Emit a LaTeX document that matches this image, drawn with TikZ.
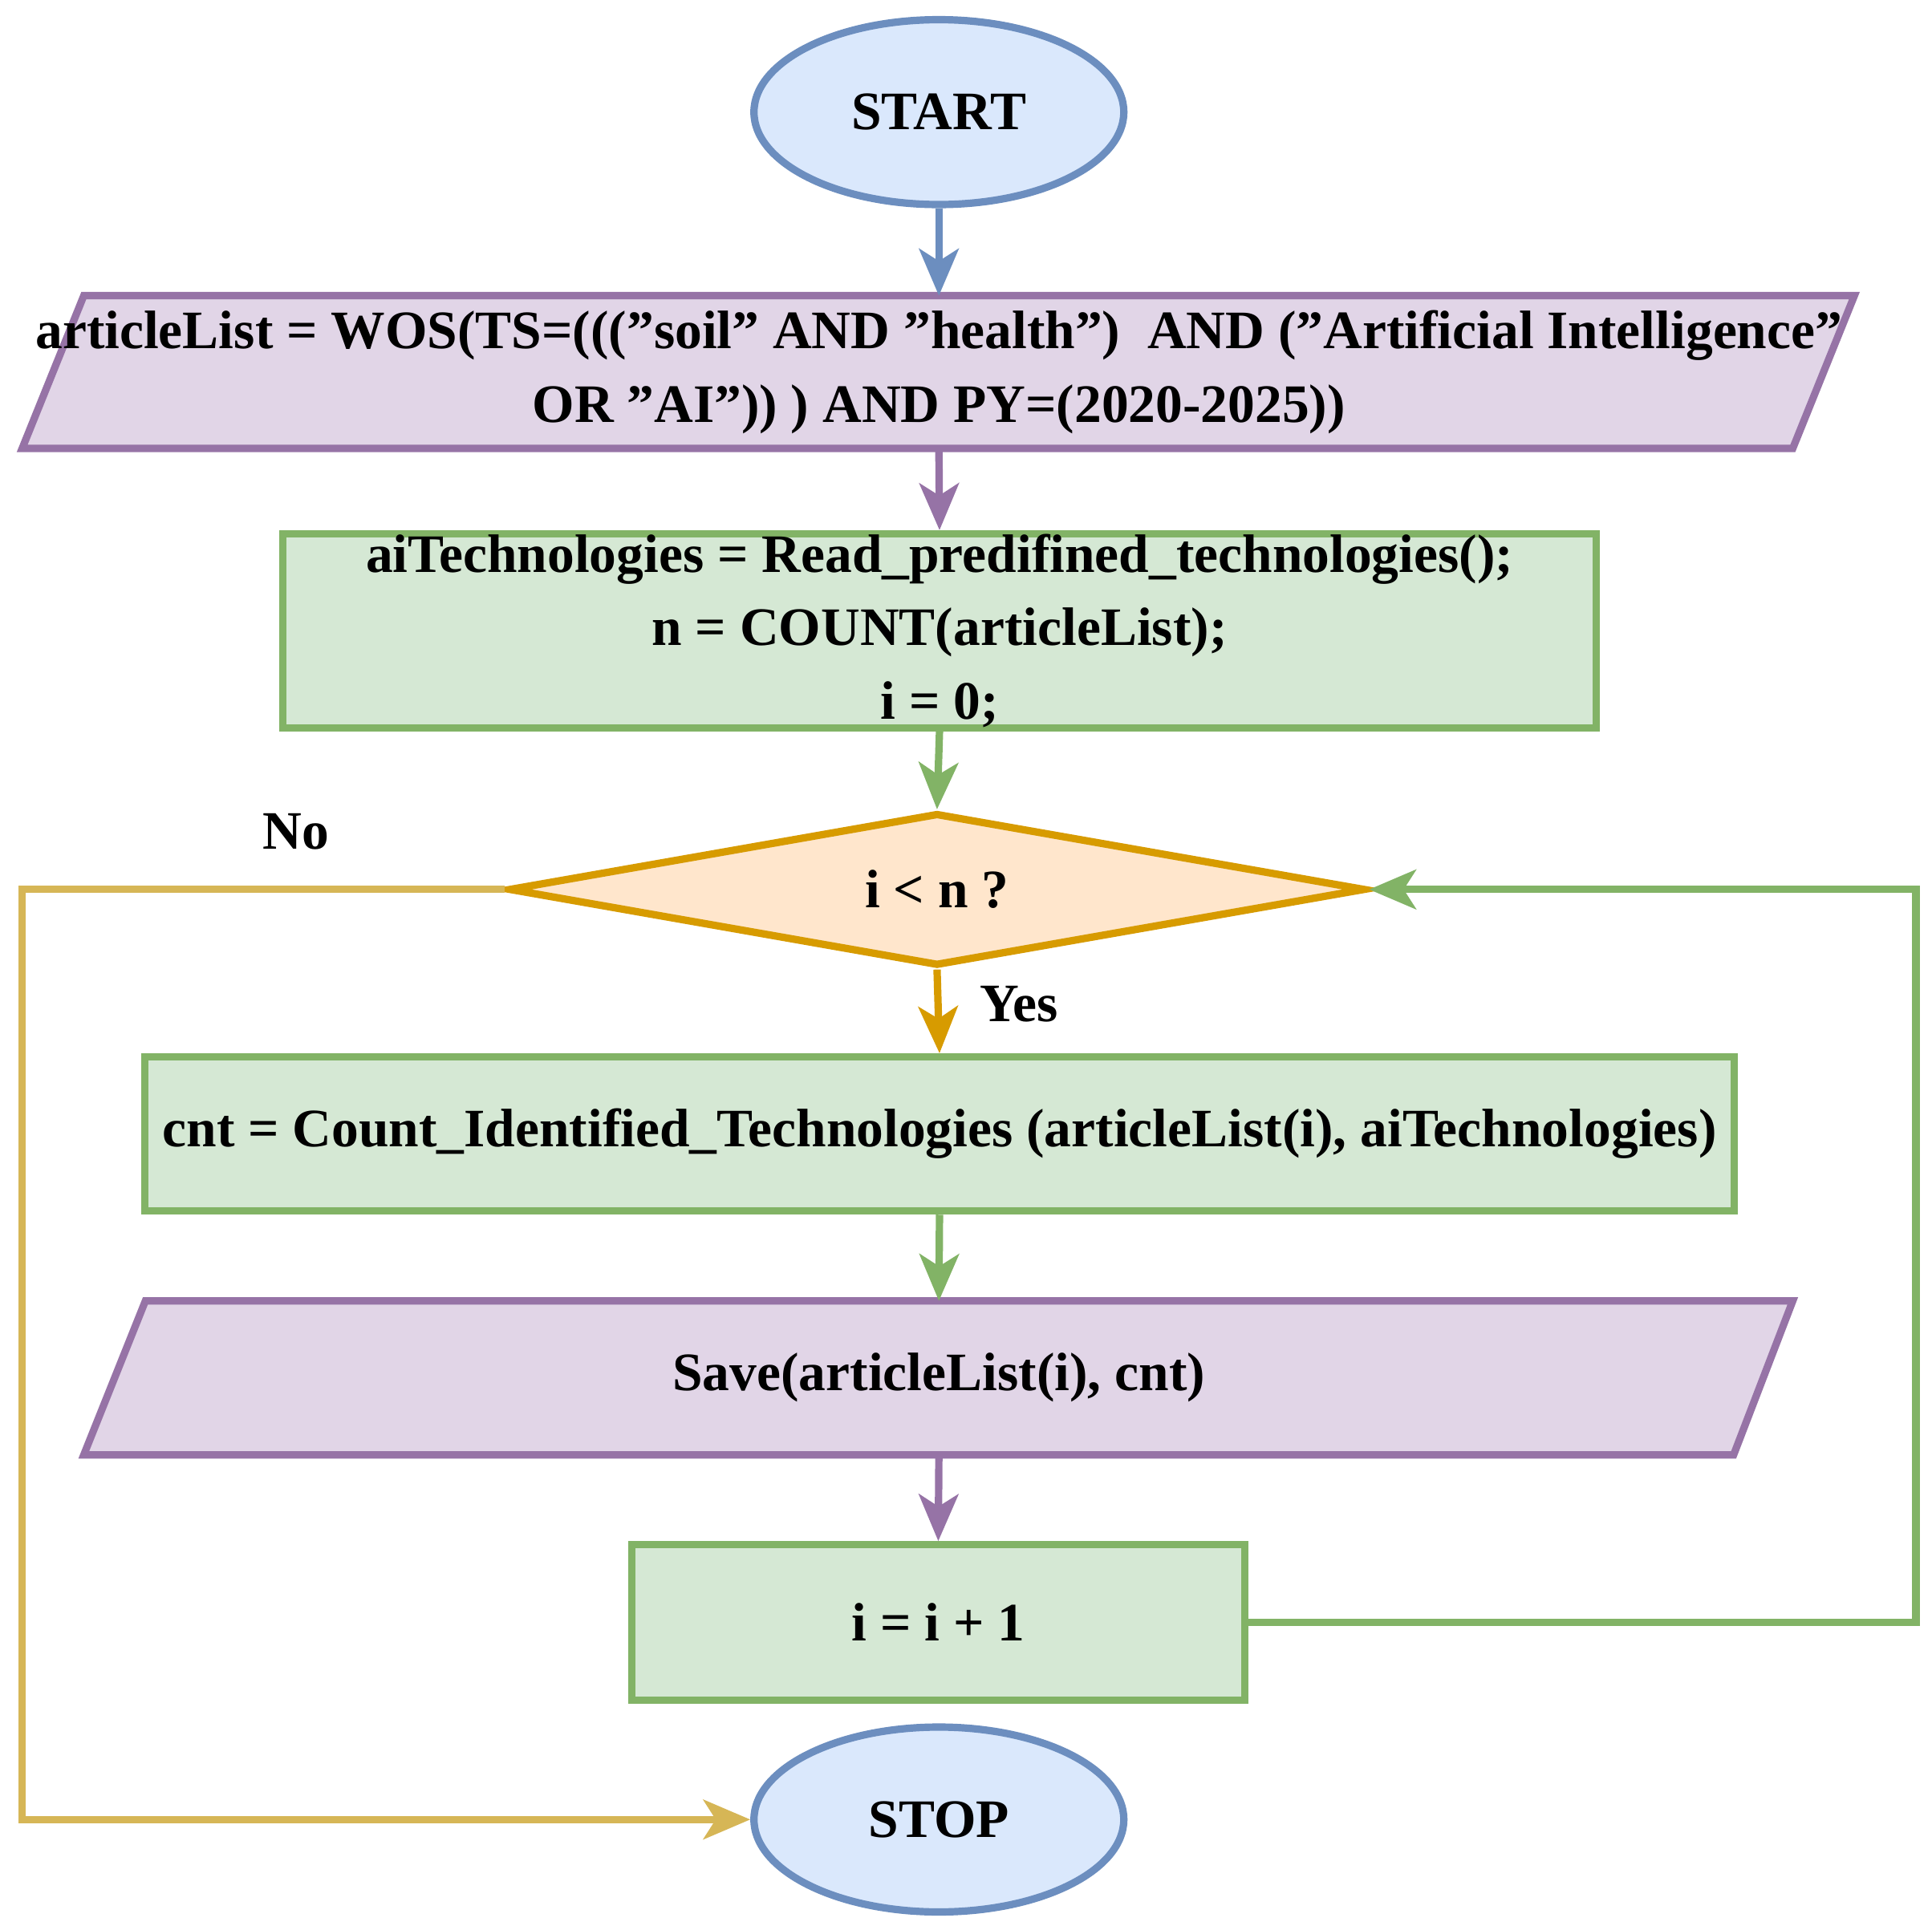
\documentclass[tikz,border=0pt]{standalone}
\usepackage{fontspec}
\setmainfont{Liberation Serif}
\usetikzlibrary{shapes.geometric,arrows.meta}
\definecolor{bS}{HTML}{6C8EBF}\definecolor{bF}{HTML}{DAE8FC}
\definecolor{pS}{HTML}{9673A6}\definecolor{pF}{HTML}{E1D5E7}
\definecolor{gS}{HTML}{82B366}\definecolor{gF}{HTML}{D5E8D4}
\definecolor{oS}{HTML}{D79B00}\definecolor{oF}{HTML}{FFE6CC}
\definecolor{yS}{HTML}{D6B656}
\begin{document}
\begin{tikzpicture}[x=0.01cm,y=-0.01cm,line width=1.7pt,
  txt/.style={font=\fontsize{12.5}{17}\selectfont\bfseries,align=center},
  arr/.style={-{Stealth[length=0.38cm,width=0.32cm,inset=0.1cm]}},
  box/.style={draw=gS,fill=gF,rectangle,inner sep=0pt,txt}]
\useasboundingbox (0,0) rectangle (1568,1563);
% START / STOP
\node[ellipse,draw=bS,fill=bF,minimum width=3cm,minimum height=1.5cm,txt] (start) at (762,91) {START};
\node[ellipse,draw=bS,fill=bF,minimum width=3cm,minimum height=1.5cm,txt] (stop) at (762,1477) {STOP};
% parallelogram 1
\filldraw[draw=pS,fill=pF] (68,240)--(1505,240)--(1455,364)--(18,364)--cycle;
\node[txt] (wos) at (762,302) {articleList = WOS(TS=((("soil" AND "health")\ \ AND ("Artificial Intelligence"\\OR "AI")) ) AND PY=(2020-2025))};
\coordinate (wosT) at (762,240); \coordinate (wosB) at (762,364);
% rect 1
\node[box,minimum width=10.65cm,minimum height=1.5cm] (init) at (762.5,512) {aiTechnologies = Read\_predifined\_technologies();\\n = COUNT(articleList);\\i = 0;};
% diamond
\node[diamond,draw=oS,fill=oF,aspect=5.6,minimum width=6.95cm,minimum height=1.24cm,inner sep=0pt,txt] (dec) at (760.5,722) {i < n ?};
% rect 2
\node[box,minimum width=12.89cm,minimum height=1.25cm] (cnt) at (762.5,920.5) {cnt = Count\_Identified\_Technologies (articleList(i), aiTechnologies)};
% parallelogram 2
\filldraw[draw=pS,fill=pF] (118,1056)--(1455,1056)--(1407,1181)--(68,1181)--cycle;
\node[txt] (save) at (762,1118) {Save(articleList(i), cnt)};
\coordinate (saveT) at (762,1056); \coordinate (saveB) at (762,1181);
% rect 3
\node[box,minimum width=4.97cm,minimum height=1.26cm] (inc) at (761.5,1317) {i = i + 1};
% arrows
\draw[bS,arr] (start.south) -- (wosT);
\draw[pS,arr] (wosB) -- (init.north);
\draw[gS,arr] (init.south) -- (dec.north);
\draw[oS,arr] (dec.south) -- (cnt.north);
\draw[gS,arr] (cnt.south) -- (saveT);
\draw[pS,arr] (saveB) -- (inc.north);
\coordinate (r1) at (1555,1317); \coordinate (r2) at (1555,722);
\draw[gS,arr] (inc.east) -- (r1) -- (r2) -- (dec.east);
\coordinate (l1) at (18,722); \coordinate (l2) at (18,1477);
\draw[yS,arr] (dec.west) -- (l1) -- (l2) -- (stop.west);
\node[txt] (no) at (240,675) {No};
\node[txt] (yes) at (827,815) {Yes};
\end{tikzpicture}
\end{document}
